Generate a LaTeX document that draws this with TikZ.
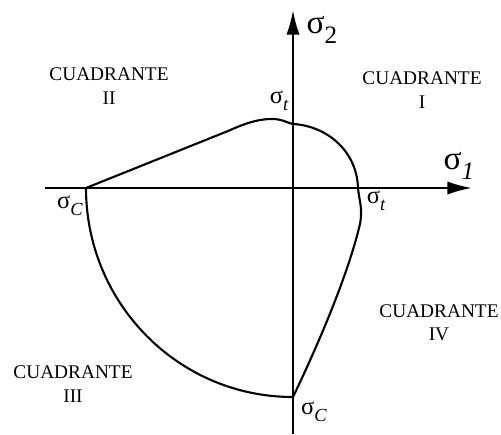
\documentclass[tikz,border=0pt]{standalone}
\usepackage{fontspec}
\setmainfont{Liberation Serif}
\usepackage{tikz}
\usetikzlibrary{arrows.meta,calc,positioning}
\newcommand{\sg}[1]{σ\raisebox{-0.3em}{\fontsize{0.75em}{1em}\selectfont #1}}
\tikzset{
  eje/.style={-{Latex[length=14pt,width=7.5pt]},line width=1.3pt},
  curva/.style={line width=1.2pt,line join=round},
  cuad/.style={align=center,font=\fontsize{11}{13.2}\selectfont,inner sep=0pt},
  grande/.style={font=\fontsize{19}{19}\selectfont,inner sep=0pt},
  chica/.style={font=\fontsize{14}{14}\selectfont,inner sep=0pt}
}
\begin{document}
\begin{tikzpicture}[x=0.02cm,y=-0.02cm]
\useasboundingbox (0,0) rectangle (501,434);
% ejes
\coordinate (O) at (293,188);
\coordinate (xizq) at (45,188); \coordinate (xder) at (472,188);
\coordinate (yinf) at (293,434); \coordinate (ysup) at (293,10);
\draw[eje] (xizq) -- (xder);
\draw[eje] (yinf) -- (ysup);
% superficie de falla
\coordinate (cizq) at (86,188); \coordinate (cinf) at (293,397);
\coordinate (tsup) at (293,124); \coordinate (tder) at (358,188);
\draw[curva] (cizq) -- (228,131) .. controls (246,123) and (258,119) .. (272,119)
  .. controls (283,119) and (287,123) .. (tsup)
  .. controls (328,126) and (357,152) .. (tder)
  .. controls (359,200) and (363,208) .. (360,224)
  .. controls (348,275) and (318,345) .. (cinf)
  .. controls (178,397) and (86,303) .. (cizq);
% etiquetas
\node[grande] (s2) at (322,30) {\sg{2}};
\node[grande] (s1) at (459,166) {\sg{\itshape 1}};
\node[chica] (st1) at (279,101) {\sg{\itshape t}};
\node[chica] (st2) at (376,201) {\sg{\itshape t}};
\node[chica] (sc1) at (70,206) {\sg{\itshape C}};
\node[chica] (sc2) at (314,412) {\sg{\itshape C}};
\foreach \n/\x/\y/\r in {q1/422/90/I,q2/109/86/II,q3/73/384/III,q4/439/323/IV}
  \node[cuad] (\n) at (\x,\y) {CUADRANTE\\\r};
\end{tikzpicture}
\end{document}
